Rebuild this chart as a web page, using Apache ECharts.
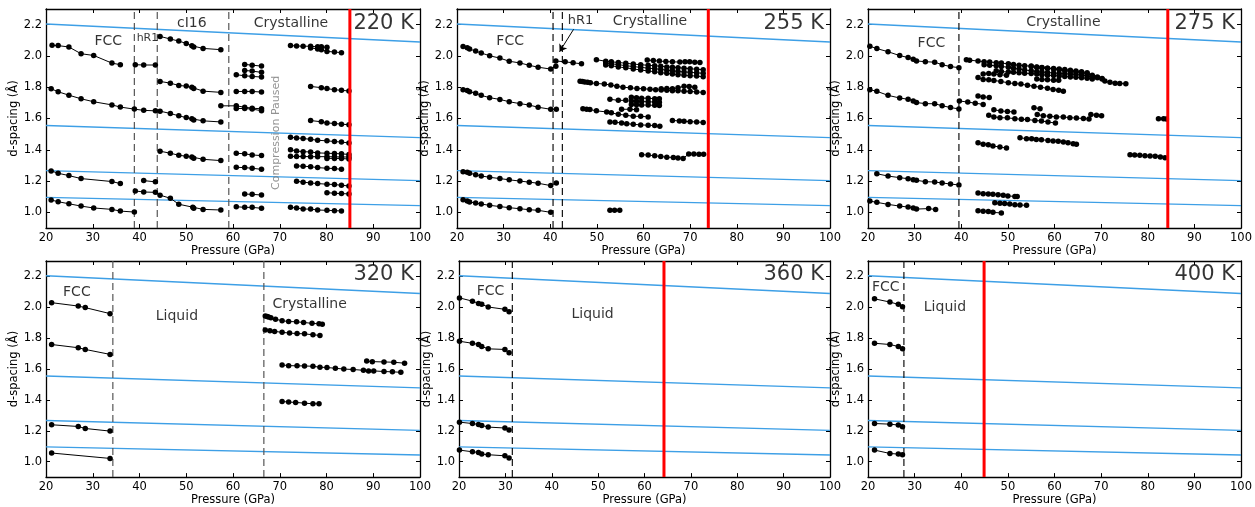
<!DOCTYPE html>
<html><head><meta charset="utf-8">
<script src="https://cdn.jsdelivr.net/npm/echarts@6/dist/echarts.min.js"></script>
<style>html,body{margin:0;padding:0;background:#fff}#c{width:1255px;height:507px}</style>
</head><body><div id="c"></div>
<script>
// ---------------- DATA ----------------
const yTickValues = [1.0, 1.2, 1.4, 1.6, 1.8, 2.0, 2.2];
const temps = ['220 K', '255 K', '275 K', '320 K', '360 K', '400 K'];
// theoretical d-spacing lines: value at 20 GPa and at 100 GPa
const theoryStart = [2.204, 1.555, 1.267, 1.096];
const theoryEnd = [2.089, 1.478, 1.203, 1.043];
// red vertical lines (GPa); null = none
const redLines = [85.0, 73.9, 84.3, null, 64.2, 44.9];
// dashed phase boundaries (GPa)
const dash220 = [38.9, 43.8, 59.1];
const dash255 = [40.6, 42.6];
const dash275 = [39.5];
const dash320 = [34.3, 66.6];
const dash360 = [31.5];
const dash400 = [27.7];
const arrow255 = [[45.0, 2.17], [42.0, 2.027]];

const rows220 = [
  [[21.3,2.068],[22.6,2.066],[24.9,2.057],[27.5,2.014],[30.2,2.003],[34.1,1.954],[35.9,1.944]],
  [[21.1,1.790],[22.6,1.771],[24.9,1.749],[27.5,1.726],[30.2,1.707],[34.1,1.687],[35.9,1.673],[38.9,1.660],[40.9,1.652],[43.4,1.649],[44.4,1.647],[46.6,1.632],[48.4,1.617],[50.0,1.606],[51.2,1.598],[51.6,1.591],[53.6,1.585],[57.4,1.578]],
  [[21.1,1.265],[22.6,1.250],[24.9,1.235],[27.5,1.216],[34.1,1.197],[35.9,1.184]],
  [[21.1,1.079],[22.6,1.068],[24.9,1.055],[27.5,1.040],[30.2,1.028],[34.1,1.019],[35.9,1.008],[38.9,1.002]],
  [[39.1,1.944],[40.9,1.942],[43.4,1.942]],
  [[40.9,1.203],[43.4,1.195]],
  [[39.1,1.137],[40.9,1.130],[43.4,1.128],[44.4,1.110],[46.6,1.090],[48.4,1.052],[51.4,1.033],[51.6,1.026],[53.6,1.019],[57.4,1.015]],
  [[44.4,2.125],[46.6,2.108],[48.4,2.095],[50.0,2.080],[51.2,2.065],[51.6,2.057],[53.6,2.048],[57.4,2.040]],
  [[44.4,1.837],[46.6,1.826],[48.4,1.811],[50.0,1.807],[51.2,1.799],[51.6,1.792],[53.6,1.775],[57.4,1.767]],
  [[44.4,1.391],[46.6,1.378],[48.4,1.365],[50.0,1.359],[51.2,1.354],[51.6,1.346],[53.6,1.339],[57.4,1.331]],
  [[62.5,1.946],[64.1,1.941],[66.1,1.935]],
  [[62.5,1.907],[64.1,1.903],[66.1,1.895]],
  [[60.7,1.880],[62.5,1.873],[64.1,1.869],[66.1,1.865]],
  [[60.7,1.773],[62.5,1.773],[64.1,1.773],[66.1,1.769]],
  [[57.4,1.681],[60.7,1.681],[62.5,1.672],[64.1,1.666],[66.1,1.662]],
  [[60.7,1.664],[62.5,1.664],[64.1,1.660],[66.1,1.650]],
  [[60.7,1.378],[62.5,1.374],[64.1,1.367],[66.1,1.363]],
  [[60.7,1.288],[62.5,1.286],[64.1,1.282],[66.1,1.275]],
  [[62.5,1.117],[64.1,1.115],[66.1,1.111]],
  [[60.7,1.036],[62.5,1.032],[64.1,1.032],[66.1,1.026]],
  [[72.3,2.066],[73.6,2.064],[75.0,2.062],[76.6,2.062],[78.1,2.058],[78.9,2.058],[80.1,2.055]],
  [[76.6,2.051],[78.1,2.045],[78.9,2.040],[80.1,2.029],[81.7,2.025],[83.2,2.021]],
  [[76.6,1.805],[78.9,1.797],[80.1,1.791],[81.7,1.784],[83.2,1.780],[84.8,1.776]],
  [[76.6,1.587],[78.9,1.579],[80.1,1.572],[81.7,1.568],[83.2,1.564],[84.8,1.560]],
  [[72.3,1.480],[73.6,1.476],[75.0,1.472],[76.6,1.467],[78.1,1.461],[80.1,1.457],[81.7,1.453],[83.2,1.449],[84.8,1.444]],
  [[72.3,1.401],[73.6,1.392],[75.0,1.388],[76.6,1.386],[78.1,1.380],[80.1,1.378],[81.7,1.376],[83.2,1.374],[84.8,1.370]],
  [[72.3,1.358],[73.6,1.357],[75.0,1.357],[76.6,1.356],[78.1,1.356],[80.1,1.356],[81.7,1.355],[83.2,1.354],[84.8,1.354]],
  [[80.1,1.345],[81.7,1.345],[83.2,1.344],[84.8,1.341]],
  [[73.6,1.297],[75.0,1.295],[76.6,1.292],[78.1,1.286],[80.1,1.282],[81.7,1.280],[83.2,1.275]],
  [[73.6,1.199],[75.0,1.193],[76.6,1.188],[78.1,1.184],[80.1,1.180],[81.7,1.178],[83.2,1.173],[84.8,1.169]],
  [[80.1,1.126],[81.7,1.122],[83.2,1.120],[84.8,1.118]],
  [[72.3,1.032],[73.6,1.028],[75.0,1.021],[76.6,1.021],[78.1,1.015],[80.1,1.013],[81.7,1.011],[83.2,1.009]]
];

const rows255 = [
  [[21.3,2.060],[22.2,2.053],[22.7,2.044],[24.0,2.031],[25.2,2.019],[27.0,2.001],[29.2,1.986],[31.2,1.966],[33.5,1.955],[35.5,1.940],[37.4,1.928],[40.1,1.916],[41.2,1.934]],
  [[21.3,1.784],[22.2,1.779],[22.7,1.771],[24.0,1.762],[25.2,1.748],[27.0,1.733],[29.2,1.722],[31.2,1.707],[33.5,1.695],[35.5,1.686],[37.4,1.672],[40.1,1.659],[41.3,1.659]],
  [[21.3,1.260],[22.2,1.256],[22.7,1.250],[24.0,1.241],[25.2,1.233],[27.0,1.224],[29.2,1.216],[31.2,1.208],[33.5,1.200],[35.5,1.193],[37.4,1.186],[40.1,1.171],[41.3,1.188]],
  [[21.3,1.081],[22.2,1.073],[22.7,1.066],[24.0,1.060],[25.2,1.053],[27.0,1.045],[29.2,1.037],[31.2,1.030],[33.5,1.023],[35.5,1.017],[37.4,1.013],[40.1,1.000]],
  [[41.2,1.968],[43.2,1.962],[44.9,1.956],[46.7,1.950]],
  [[49.9,1.976],[51.9,1.966],[53.1,1.962],[54.6,1.958],[56.2,1.953],[57.8,1.948],[59.4,1.944],[61.0,1.940],[62.4,1.937],[63.7,1.934],[65.0,1.930],[66.2,1.928],[67.4,1.925],[68.7,1.922],[70.0,1.918],[71.4,1.915],[72.8,1.912]],
  [[51.9,1.955],[53.1,1.950],[54.6,1.944],[56.2,1.938],[57.8,1.932],[59.4,1.927],[61.0,1.922],[62.4,1.918],[63.7,1.914],[65.0,1.909],[66.2,1.905],[67.4,1.901],[68.7,1.898],[70.0,1.895],[71.4,1.892],[72.8,1.889]],
  [[51.9,1.942],[53.1,1.937],[54.6,1.930],[56.2,1.924],[57.8,1.917],[59.4,1.910],[61.0,1.904],[62.4,1.899],[63.7,1.893],[65.0,1.889],[66.2,1.884],[67.4,1.880],[68.7,1.877],[70.0,1.874],[71.4,1.871],[72.8,1.867]],
  [[60.8,1.974],[62.1,1.970],[63.4,1.967],[64.8,1.964],[66.2,1.962],[67.8,1.961],[68.9,1.963],[69.9,1.962],[71.0,1.960],[72.1,1.958]],
  [[46.4,1.838],[46.9,1.836],[47.4,1.834],[48.0,1.831],[48.6,1.828],[49.9,1.824],[51.6,1.820],[53.0,1.814],[54.3,1.806],[55.6,1.800],[57.2,1.796],[58.6,1.792],[60.0,1.790],[61.4,1.787],[62.6,1.784],[63.8,1.782],[65.0,1.780],[66.2,1.778],[67.4,1.777],[68.7,1.775],[70.0,1.773],[71.4,1.770],[72.8,1.767]],
  [[63.8,1.790],[65.0,1.792],[66.2,1.790],[67.4,1.796],[68.7,1.806],[69.8,1.805],[71.0,1.800]],
  [[52.8,1.723],[54.6,1.716],[56.2,1.716]],
  [[57.4,1.736],[58.5,1.732],[59.6,1.730],[61.0,1.730],[62.4,1.726],[63.4,1.726]],
  [[57.4,1.712],[58.5,1.710],[59.6,1.708],[61.0,1.707],[62.4,1.705],[63.4,1.704]],
  [[57.4,1.690],[58.5,1.688],[59.6,1.686],[61.0,1.686],[62.4,1.684],[63.4,1.683]],
  [[47.0,1.663],[47.8,1.659],[48.5,1.657],[49.9,1.649],[52.1,1.642],[53.1,1.636],[54.6,1.627],[56.2,1.621],[57.8,1.614],[59.4,1.614],[61.0,1.610]],
  [[55.3,1.659],[57.1,1.659],[58.5,1.656]],
  [[52.8,1.578],[53.9,1.576],[55.3,1.572],[56.4,1.567],[57.8,1.563],[59.4,1.559],[61.0,1.557],[62.4,1.555],[63.5,1.551]],
  [[66.2,1.588],[67.7,1.584],[68.7,1.582],[70.0,1.580],[71.4,1.578],[72.8,1.575]],
  [[59.6,1.369],[61.0,1.366],[62.4,1.362],[63.7,1.357],[65.0,1.353],[66.4,1.351],[67.4,1.347],[68.5,1.345],[69.7,1.373],[70.8,1.373],[71.9,1.371],[72.9,1.371]],
  [[52.8,1.013],[53.8,1.013],[54.9,1.013]]
];

const rows275 = [
  [[20.4,2.062],[21.9,2.047],[24.3,2.027],[26.8,2.002],[28.6,1.990],[29.7,1.978],[30.4,1.968],[32.3,1.963],[34.3,1.960],[35.9,1.944],[37.7,1.932],[39.5,1.925]],
  [[20.4,1.784],[21.9,1.774],[24.3,1.748],[26.8,1.731],[28.6,1.723],[29.7,1.712],[30.4,1.702],[32.3,1.695],[34.3,1.694],[35.9,1.682],[37.7,1.670],[39.5,1.661]],
  [[21.9,1.247],[24.3,1.232],[26.8,1.222],[28.6,1.215],[29.7,1.209],[30.4,1.205],[32.3,1.196],[34.3,1.194],[35.9,1.188],[37.7,1.181],[39.5,1.175]],
  [[20.4,1.072],[21.9,1.064],[24.3,1.051],[26.8,1.040],[28.6,1.034],[29.7,1.028],[30.4,1.021],[33.0,1.024],[34.5,1.018]],
  [[41.1,1.976],[41.8,1.973],[43.6,1.967],[44.9,1.963],[46.1,1.961],[47.5,1.957],[48.6,1.954],[50.1,1.950],[51.2,1.945],[52.4,1.940],[53.6,1.937],[55.0,1.935],[56.2,1.930],[57.3,1.926],[58.5,1.921],[59.8,1.916],[61.0,1.911],[62.2,1.906],[63.4,1.902],[64.6,1.898],[65.8,1.893],[67.0,1.886],[68.1,1.877],[69.2,1.866],[70.2,1.852],[70.8,1.840],[71.9,1.831],[73.0,1.826],[74.0,1.824],[75.3,1.822]],
  [[44.9,1.943],[46.1,1.940],[47.5,1.937],[48.6,1.932],[50.1,1.928],[51.2,1.922],[52.4,1.916],[53.6,1.910],[55.0,1.905],[56.2,1.900],[57.3,1.897],[58.5,1.894],[59.8,1.891],[61.0,1.888],[62.2,1.886],[63.4,1.884],[64.6,1.881],[65.8,1.878],[67.0,1.872],[68.1,1.866],[69.2,1.860],[70.2,1.856]],
  [[47.5,1.905],[48.6,1.900],[50.1,1.897],[51.2,1.895],[52.4,1.893],[53.6,1.890],[55.0,1.887],[56.2,1.884],[57.3,1.880],[58.5,1.877],[59.8,1.875],[61.0,1.872],[62.2,1.869],[63.4,1.866],[64.6,1.863],[65.8,1.860],[67.0,1.857],[68.1,1.853]],
  [[55.0,1.932],[56.2,1.928],[57.3,1.925],[58.5,1.922],[59.8,1.920],[61.0,1.917],[62.2,1.913],[63.4,1.909],[64.6,1.904],[65.8,1.899],[67.0,1.893]],
  [[43.6,1.862],[44.7,1.850],[45.9,1.848],[47.0,1.843],[48.5,1.837],[50.1,1.828],[51.5,1.823],[52.8,1.820],[54.2,1.812],[55.6,1.806],[57.0,1.800],[58.5,1.793],[59.7,1.785],[60.9,1.780],[61.9,1.774]],
  [[44.7,1.884],[45.9,1.887],[47.0,1.884],[48.3,1.880],[49.7,1.876]],
  [[56.2,1.852],[57.3,1.849],[58.5,1.847],[59.8,1.845],[60.9,1.844]],
  [[43.6,1.744],[44.7,1.738],[46.0,1.735]],
  [[39.6,1.712],[41.4,1.705],[43.0,1.698],[44.7,1.690]],
  [[47.0,1.656],[48.5,1.648],[49.9,1.645],[51.3,1.641]],
  [[55.6,1.669],[56.9,1.663]],
  [[45.9,1.620],[47.0,1.610],[48.3,1.605],[49.9,1.604],[51.5,1.599],[52.9,1.595],[54.2,1.593],[55.8,1.588],[57.2,1.584],[58.6,1.578],[60.2,1.571]],
  [[56.3,1.625],[57.6,1.618],[59.0,1.614],[60.4,1.610],[61.9,1.610],[63.3,1.605],[64.7,1.603],[66.2,1.600],[67.4,1.597]],
  [[67.8,1.625],[69.0,1.620],[70.1,1.618]],
  [[82.3,1.599],[83.4,1.599],[84.0,1.597]],
  [[43.6,1.445],[44.7,1.435],[45.8,1.432],[46.8,1.424],[48.3,1.418],[49.7,1.411]],
  [[52.6,1.477],[54.0,1.471],[55.1,1.471],[56.1,1.466],[57.2,1.464],[58.6,1.460],[59.7,1.456],[60.8,1.454],[61.9,1.450],[62.9,1.445],[64.0,1.439],[64.7,1.435]],
  [[76.2,1.369],[77.2,1.367],[78.3,1.365],[79.4,1.362],[80.5,1.361],[81.6,1.359],[82.7,1.354],[83.7,1.349]],
  [[43.6,1.124],[44.7,1.119],[45.8,1.117],[46.8,1.115],[47.9,1.113],[49.0,1.109],[50.0,1.105],[51.5,1.102],[52.0,1.102]],
  [[47.2,1.062],[48.3,1.058],[49.3,1.056],[50.4,1.054],[51.5,1.049],[52.6,1.047],[54.0,1.045]],
  [[43.6,1.011],[44.7,1.007],[45.8,1.005],[46.8,1.000],[48.6,0.996]]
];

const rows320 = [
  [[21.2,2.030],[26.9,2.008],[28.4,1.998],[33.7,1.959]],
  [[21.2,1.759],[26.9,1.738],[28.4,1.727],[33.7,1.695]],
  [[21.2,1.239],[26.9,1.228],[28.4,1.215],[33.7,1.198]],
  [[21.2,1.056],[33.7,1.021]],
  [[66.9,1.944],[67.3,1.940],[67.6,1.938],[68.1,1.933],[69.1,1.923],[70.5,1.913],[71.9,1.908],[73.6,1.906],[75.1,1.902],[76.9,1.896],[78.4,1.893],[79.1,1.890]],
  [[66.9,1.853],[67.9,1.848],[68.9,1.844],[70.5,1.838],[72.1,1.833],[73.7,1.830],[75.3,1.828],[77.1,1.822],[78.6,1.818]],
  [[70.5,1.627],[71.9,1.622],[73.7,1.621],[75.3,1.620],[77.1,1.618],[78.6,1.612],[80.1,1.610],[81.9,1.605],[83.7,1.600],[85.7,1.597],[87.9,1.592],[89.0,1.588],[90.1,1.588],[92.3,1.584],[94.1,1.582],[95.9,1.579]],
  [[88.6,1.652],[89.8,1.648],[92.3,1.646],[94.4,1.644],[96.7,1.638]],
  [[70.5,1.390],[71.9,1.386],[73.4,1.384],[75.3,1.379],[77.1,1.375],[78.4,1.375]]
];

const rows360 = [
  [[20.1,2.061],[22.9,2.040],[24.2,2.025],[24.9,2.019],[26.3,2.002],[29.9,1.987],[30.8,1.972]],
  [[20.1,1.780],[22.9,1.767],[24.2,1.759],[24.9,1.746],[26.3,1.731],[29.9,1.727],[30.8,1.706]],
  [[20.1,1.256],[22.9,1.247],[24.2,1.241],[24.9,1.235],[26.3,1.224],[29.9,1.218],[30.8,1.205]],
  [[20.1,1.075],[22.9,1.064],[24.2,1.060],[24.9,1.049],[26.3,1.045],[29.9,1.038],[30.8,1.024]]
];

const rows400 = [
  [[21.4,2.055],[24.7,2.034],[26.5,2.019],[27.4,2.004]],
  [[21.4,1.767],[24.7,1.759],[26.5,1.746],[27.4,1.731]],
  [[21.4,1.247],[24.7,1.243],[26.5,1.237],[27.4,1.226]],
  [[21.4,1.075],[24.7,1.053],[26.5,1.049],[27.4,1.045]]
];

// text labels: [text, pressure, d-spacing]
const labels220 = [['FCC',33.3,2.093],['hR1',41.7,2.115],['cI16',51.2,2.211],['Crystalline',72.4,2.207]];
const labels255 = [['FCC',31.4,2.095],['hR1',46.5,2.223],['Crystalline',61.4,2.223]];
const labels275 = [['FCC',33.6,2.079],['Crystalline',61.9,2.217]];
const labels320 = [['FCC',26.6,2.100],['Liquid',48.0,1.940],['Crystalline',76.4,2.019]];
const labels360 = [['FCC',26.8,2.104],['Liquid',48.8,1.955]];
const labels400 = [['FCC',23.8,2.130],['Liquid',36.5,2.000]];
const pausedLabel = ['Compression Paused', 69.2, 1.508];
const tempLabelPos = [98.7, 2.21];

// ---------------- BUILD ----------------
const FONT = "'DejaVu Sans', sans-serif";
const X_MIN = 20, X_MAX = 100, Y_MIN = 0.9, Y_MAX = 2.3;
const allRows = [rows220, rows255, rows275, rows320, rows360, rows400];
const allLabels = [labels220, labels255, labels275, labels320, labels360, labels400];
const allDashes = [dash220, dash255, dash275, dash320, dash360, dash400];
const dashColors = ['#555', '#111', '#111', '#555', '#111', '#111'];

const layout = [
  {left: 46, top: 9, width: 374},
  {left: 457, top: 9, width: 373},
  {left: 868, top: 9, width: 373},
  {left: 46, top: 261, width: 374},
  {left: 459, top: 261, width: 371},
  {left: 868, top: 261, width: 373}
];
const PH = 219;

const grids = [], xAxes = [], yAxes = [], series = [];
const axisLine = {show: true, onZero: false, lineStyle: {color: '#000', width: 1.3}};
const tick = {show: true, inside: true, length: 4, lineStyle: {color: '#000', width: 1}};
const lbl = {color: '#000', fontSize: 11.5, fontFamily: FONT};

for (let i = 0; i < 6; i++) {
  const L = layout[i];
  grids.push({left: L.left, top: L.top, width: L.width, height: PH, containLabel: false});
  const xb = xAxes.length;
  xAxes.push({gridIndex: i, type: 'value', min: X_MIN, max: X_MAX, interval: 10, position: 'bottom',
    axisLine, axisTick: tick, splitLine: {show: false},
    axisLabel: Object.assign({margin: 4, showMinLabel: true, showMaxLabel: true}, lbl),
    name: 'Pressure (GPa)', nameLocation: 'middle', nameGap: 15,
    nameTextStyle: {color: '#000', fontSize: 11.5, fontFamily: FONT}});
  xAxes.push({gridIndex: i, type: 'value', min: X_MIN, max: X_MAX, interval: 10, position: 'top',
    axisLine, axisTick: tick, splitLine: {show: false}, axisLabel: {show: false}});
  const yl = yAxes.length;
  yAxes.push({gridIndex: i, type: 'value', min: Y_MIN, max: Y_MAX, position: 'left',
    axisLine, axisTick: Object.assign({customValues: yTickValues}, tick), splitLine: {show: false},
    axisLabel: Object.assign({margin: 4, customValues: yTickValues, formatter: v => Number(v).toFixed(1)}, lbl),
    name: 'd-spacing (Å)', nameLocation: 'middle', nameGap: 24, nameRotate: 90,
    nameTextStyle: {color: '#000', fontSize: 11.5, fontFamily: FONT}});
  yAxes.push({gridIndex: i, type: 'value', min: Y_MIN, max: Y_MAX, position: 'right',
    axisLine, axisTick: Object.assign({customValues: yTickValues}, tick), splitLine: {show: false},
    axisLabel: {show: false}});

  const base = {xAxisIndex: xb, yAxisIndex: yl, animation: false, silent: true};

  // theoretical lines
  for (let k = 0; k < theoryStart.length; k++) {
    series.push(Object.assign({type: 'line', data: [[X_MIN, theoryStart[k]], [X_MAX, theoryEnd[k]]],
      symbol: 'none', lineStyle: {color: '#3d9fe6', width: 1.4}, z: 1}, base));
  }
  // dashed boundaries
  allDashes[i].forEach(d => {
    series.push(Object.assign({type: 'line', data: [[d, Y_MIN], [d, Y_MAX]], symbol: 'none',
      lineStyle: {color: dashColors[i], width: 1.2, type: [7, 4]}, z: 2}, base));
  });
  // data rows
  allRows[i].forEach(r => {
    series.push(Object.assign({type: 'line', data: r, symbol: 'circle', symbolSize: 5.5, showSymbol: true,
      itemStyle: {color: '#000'}, lineStyle: {color: '#000', width: 1}, z: 3}, base));
  });
  // red line
  if (redLines[i] !== null) {
    series.push(Object.assign({type: 'line', data: [[redLines[i], Y_MIN], [redLines[i], Y_MAX]], symbol: 'none',
      lineStyle: {color: '#ff0000', width: 3}, z: 4}, base));
  }
  // labels
  const labData = allLabels[i].map(a => ({value: [a[1], a[2]],
    label: {show: true, formatter: a[0], position: 'inside', color: '#000', fontFamily: FONT,
      fontSize: a[0] === 'hR1' ? (i === 0 ? 11 : 13) : 14}}));
  labData.push({value: tempLabelPos, label: {show: true, formatter: temps[i], position: [0, 0], align: 'right',
    verticalAlign: 'middle', color: '#000', fontFamily: FONT, fontSize: 21}});
  if (i === 0) {
    labData.push({value: [pausedLabel[1], pausedLabel[2]], label: {show: true, formatter: pausedLabel[0],
      position: 'inside', rotate: 90, color: '#777', fontFamily: FONT, fontSize: 11}});
  }
  const labSeries = Object.assign({type: 'scatter', data: labData, symbolSize: 0, z: 6}, base);
  if (i === 1) {
    labSeries.markLine = {silent: true, symbol: ['none', 'arrow'], symbolSize: 7, animation: false,
      label: {show: false}, lineStyle: {color: '#000', width: 1, type: 'solid'},
      data: [[{coord: arrow255[0]}, {coord: arrow255[1]}]]};
  }
  series.push(labSeries);
}

const chart = echarts.init(document.getElementById('c'), null, {renderer: 'canvas'});
chart.setOption({animation: false, backgroundColor: '#fff', grid: grids, xAxis: xAxes, yAxis: yAxes, series});
</script></body></html>
